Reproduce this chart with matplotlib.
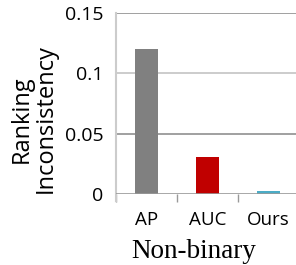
import numpy as np
import matplotlib.pyplot as plt

methods = ["AP", "AUC", "Ours"]
values = [0.12, 0.031, 0.0025]
colors = ["#808080", "#C00000", "#4BACC6"]
yticks = [0, 0.05, 0.1, 0.15]
ytick_labels = ["0", "0.05", "0.1", "0.15"]

fig = plt.figure(figsize=(2.96, 2.65), dpi=100)
ax = fig.add_axes([116 / 296, 1 - 194 / 265, 180 / 296, (194 - 12.7) / 265])

x = np.arange(len(methods))
ax.bar(x, values, width=0.39, color=colors, zorder=3)

ax.set_xlim(-0.5, 2.45)
ax.set_ylim(0, 0.15)
ax.set_yticks(yticks)
ax.set_yticklabels(ytick_labels, family="Open Sans", fontsize=14)
ax.set_xticks(x)
ax.set_xticklabels(methods, family="Open Sans", fontsize=13.5)
ax.tick_params(axis="y", length=0, pad=9)
ax.tick_params(axis="x", length=0, pad=12)

# category boundary ticks below the axis
ax.set_xticks([-0.5, 0.5, 1.5], minor=True)
ax.tick_params(axis="x", which="minor", length=6, width=1, color="#999999", direction="out")

grid_colors = ["#999999", "#c8c8c8", "#999999"]
for y, gc in zip(yticks[1:], grid_colors):
    ax.axhline(y, color=gc, lw=1.3, zorder=1)
ax.axhline(0, color="#999999", lw=1.2, zorder=4)

for s in ["top", "right", "bottom"]:
    ax.spines[s].set_visible(False)
ax.spines["left"].set_color("#cccccc")
ax.spines["left"].set_linewidth(1.5)
ax.spines["left"].set_bounds(-0.0055, 0.15)
ax.set_clip_on(False)

fig.text(34 / 296, 1 - 119 / 265, "Ranking\nInconsistency", family="Open Sans",
         fontsize=17, rotation=90, ha="center", va="center", linespacing=1.0)
fig.text(194 / 296, 1 - 251 / 265, "Non-binary", family="Liberation Serif",
         fontsize=19.5, ha="center", va="center")

fig.savefig("out.png", dpi=100)
